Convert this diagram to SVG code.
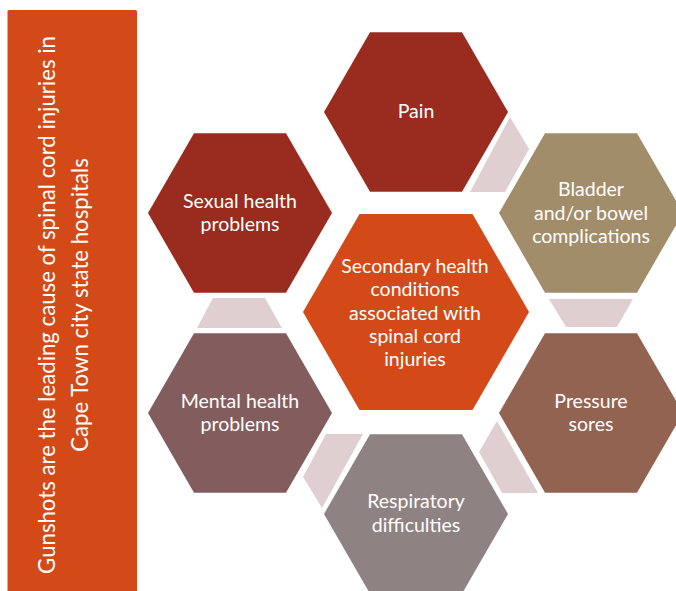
<svg xmlns="http://www.w3.org/2000/svg" width="676" height="591" viewBox="0 0 676 591">
<style>
text{font-family:Lato,"Open Sans","Liberation Sans",sans-serif;fill:#fff;text-anchor:middle}
.hx{font-size:19.5px}
.side{font-size:22.2px}
.con{fill:#dfcfd0}
</style>
<rect width="676" height="591" fill="#fff"/>
<g id="side-banner">
<rect x="7.5" y="10" width="129.5" height="585" rx="1.5" fill="#d34a18"/>
<text class="side" transform="translate(55,305) rotate(-90)">Gunshots are the leading cause of spinal cord injuries in</text>
<text class="side" transform="translate(88,305) rotate(-90)">Cape Town city state hospitals</text>
</g>
<g id="connectors">
<polygon class="con" points="213,298 265,298 282,328 197,328"/>
<polygon class="con" points="510,117 529,149 505,192 470,192"/>
<polygon class="con" points="549,299 633,299 617,327 566,327"/>
<polygon class="con" points="497,421 479,452 502,493 538,493"/>
<polygon class="con" points="326,434 363,434 322,508 303,477"/>
</g>
<g id="node-pain">
<polygon points="370,32.3 462,32.3 508,112 462,191.7 370,191.7 324,112" fill="#9a2b1f"/>
<text class="hx" x="416" y="118">Pain</text>
</g>
<g id="node-sexual">
<polygon points="194,133.3 286,133.3 332,213 286,292.7 194,292.7 148,213" fill="#9a2b1f"/>
<text class="hx" x="240" y="208">Sexual health</text>
<text class="hx" x="240" y="231">problems</text>
</g>
<g id="node-bladder">
<polygon points="545,133.3 637,133.3 683,213 637,292.7 545,292.7 499,213" fill="#a28d6b"/>
<text class="hx" x="591" y="196">Bladder</text>
<text class="hx" x="591" y="219.5">and/or bowel</text>
<text class="hx" x="591" y="243">complications</text>
</g>
<g id="node-center">
<polygon points="359.5,214.1 472.5,214.1 529,312 472.5,409.9 359.5,409.9 303,312" fill="#d34a18"/>
<text class="hx" x="415" y="273">Secondary health</text>
<text class="hx" x="415" y="296.3">conditions</text>
<text class="hx" x="415" y="319.6">associated with</text>
<text class="hx" x="415" y="342.9">spinal cord</text>
<text class="hx" x="415" y="366.2">injuries</text>
</g>
<g id="node-mental">
<polygon points="194,333.3 286,333.3 332,413 286,492.7 194,492.7 148,413" fill="#835d5d"/>
<text class="hx" x="240" y="408">Mental health</text>
<text class="hx" x="240" y="431">problems</text>
</g>
<g id="node-pressure">
<polygon points="545,333.3 637,333.3 683,413 637,492.7 545,492.7 499,413" fill="#936352"/>
<text class="hx" x="591" y="408">Pressure</text>
<text class="hx" x="591" y="431">sores</text>
</g>
<g id="node-respiratory">
<polygon points="370,434.3 462,434.3 508,514 462,593.7 370,593.7 324,514" fill="#8f8282"/>
<text class="hx" x="416" y="508">Respiratory</text>
<text class="hx" x="416" y="532">difficulties</text>
</g>
</svg>
